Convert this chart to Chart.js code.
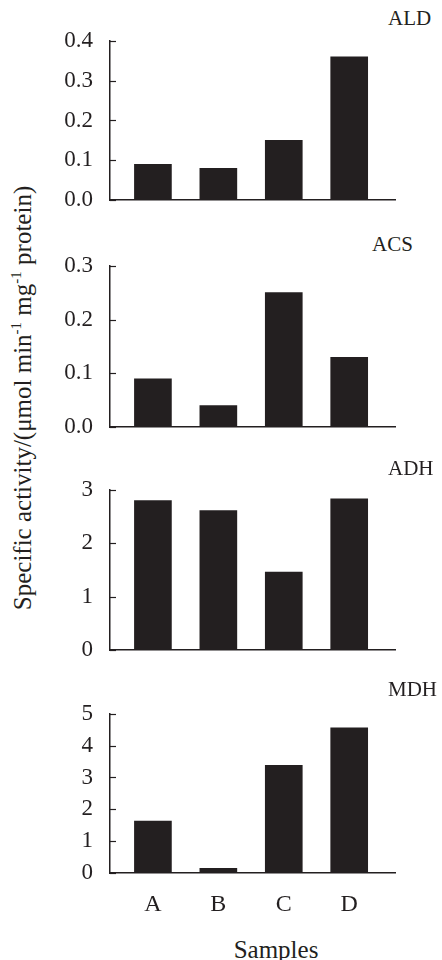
<!DOCTYPE html>
<html>
<head>
<meta charset="utf-8">
<title>Specific activity by sample</title>
<script src="https://cdn.jsdelivr.net/npm/chart.js@4.4.1/dist/chart.umd.min.js"></script>
<style>
    body { margin: 0; background: #fff; }
    #wrap {
        position: relative;
        width: 442px;
        height: 960px;
        font-family: "Liberation Serif", "Times New Roman", serif;
        color: #231f20;
    }
    #wrap canvas { position: absolute; left: 0; }
    .ttl { position: absolute; font-size: 21px; line-height: 1; }
    #ylab {
        position: absolute;
        left: 22px;
        top: 398px;
        font-size: 25px;
        line-height: 1;
        white-space: nowrap;
        transform: translate(-50%, -50%) rotate(-90deg);
    }
    #ylab sup { font-size: 0.6em; line-height: 0; }
    #xlab { position: absolute; left: 276px; top: 937px; font-size: 25px; line-height: 1; transform: translateX(-50%); }
</style>
</head>
<body>
<div id="wrap">
    <div id="ylab">Specific activity/(μmol min<sup>-1</sup> mg<sup>-1</sup> protein)</div>
    <div id="xlab">Samples</div>
</div>
<script>
// Data
const samples = ['A', 'B', 'C', 'D'];
const aldValues = [0.09, 0.08, 0.15, 0.36];
const acsValues = [0.09, 0.04, 0.25, 0.13];
const adhValues = [2.80, 2.61, 1.46, 2.83];
const mdhValues = [1.63, 0.15, 3.38, 4.56];

const enzymes = ['ALD', 'ACS', 'ADH', 'MDH'];
const yMax = [0.4, 0.3, 3, 5];
const yStep = [0.05, 0.05, 0.5, 0.5];   // minor tick spacing
const yLabelStep = [0.1, 0.1, 1, 1];    // labelled ticks
const yDecimals = [1, 1, 0, 0];

// Layout (pixels)
const panelTop = [40, 265, 489, 713];
const panelBottom = [201, 428, 651, 873];
const titleTop = [8, 234, 458, 679];
const titleLeft = [388, 372, 388, 388];
const ink = '#231f20';
const serif = '"Liberation Serif", "Times New Roman", serif';

// Ticks pointing into the plot, like the original figure
const innerTicks = {
    id: 'innerTicks',
    afterDatasetsDraw(chart) {
        const { ctx, chartArea, scales: { y } } = chart;
        ctx.save();
        ctx.strokeStyle = ink;
        ctx.lineWidth = 1.2;
        y.ticks.forEach(t => {
            const py = Math.round(y.getPixelForValue(t.value)) + 0.5;
            ctx.beginPath();
            ctx.moveTo(chartArea.left, py);
            ctx.lineTo(chartArea.left + 6, py);
            ctx.stroke();
        });
        ctx.restore();
    }
};

const allValues = [aldValues, acsValues, adhValues, mdhValues];
const wrap = document.getElementById('wrap');

allValues.forEach((values, i) => {
    const last = i === allValues.length - 1;
    const bottomExtra = last ? 50 : 30;
    const top = panelTop[i] - 30;
    const height = panelBottom[i] - panelTop[i] + 30 + bottomExtra;

    const title = document.createElement('div');
    title.className = 'ttl';
    title.textContent = enzymes[i];
    title.style.top = titleTop[i] + 'px';
    title.style.left = titleLeft[i] + 'px';
    wrap.appendChild(title);

    const canvas = document.createElement('canvas');
    canvas.width = 442;
    canvas.height = height;
    canvas.style.top = top + 'px';
    wrap.appendChild(canvas);

    new Chart(canvas.getContext('2d'), {
        type: 'bar',
        data: {
            datasets: [{
                label: enzymes[i],
                data: values.map((v, k) => ({ x: k + 1, y: v })),
                backgroundColor: ink,
                borderWidth: 0,
                barThickness: 37
            }]
        },
        plugins: [innerTicks],
        options: {
            responsive: false,
            animation: false,
            devicePixelRatio: 1,
            layout: { padding: { top: 30, bottom: last ? 0 : 30, left: 0, right: 47 } },
            plugins: { legend: { display: false }, tooltip: { enabled: false } },
            scales: {
                x: {
                    type: 'linear',
                    offset: false,
                    min: 0.344,
                    max: 4.70,
                    afterBuildTicks: s => { s.ticks = samples.map((_, k) => ({ value: k + 1 })); },
                    afterFit: s => { s.height = last ? 50 : 0; },
                    grid: { display: true, drawOnChartArea: false, drawTicks: false },
                    border: { color: ink, width: 1.5 },
                    ticks: {
                        display: last,
                        padding: 17,
                        color: ink,
                        font: { family: serif, size: 24 },
                        callback: v => samples[v - 1]
                    }
                },
                y: {
                    min: 0,
                    max: yMax[i],
                    afterFit: s => { s.width = 110; },
                    grid: { display: true, drawOnChartArea: false, drawTicks: false },
                    border: { color: ink, width: 1.5 },
                    ticks: {
                        stepSize: yStep[i],
                        padding: 17,
                        color: ink,
                        font: { family: serif, size: 23 },
                        callback: v => {
                            const r = Math.round(v / yLabelStep[i] * 1000) / 1000;
                            return Number.isInteger(r) ? v.toFixed(yDecimals[i]) : '';
                        }
                    }
                }
            }
        }
    });
});
</script>
</body>
</html>
